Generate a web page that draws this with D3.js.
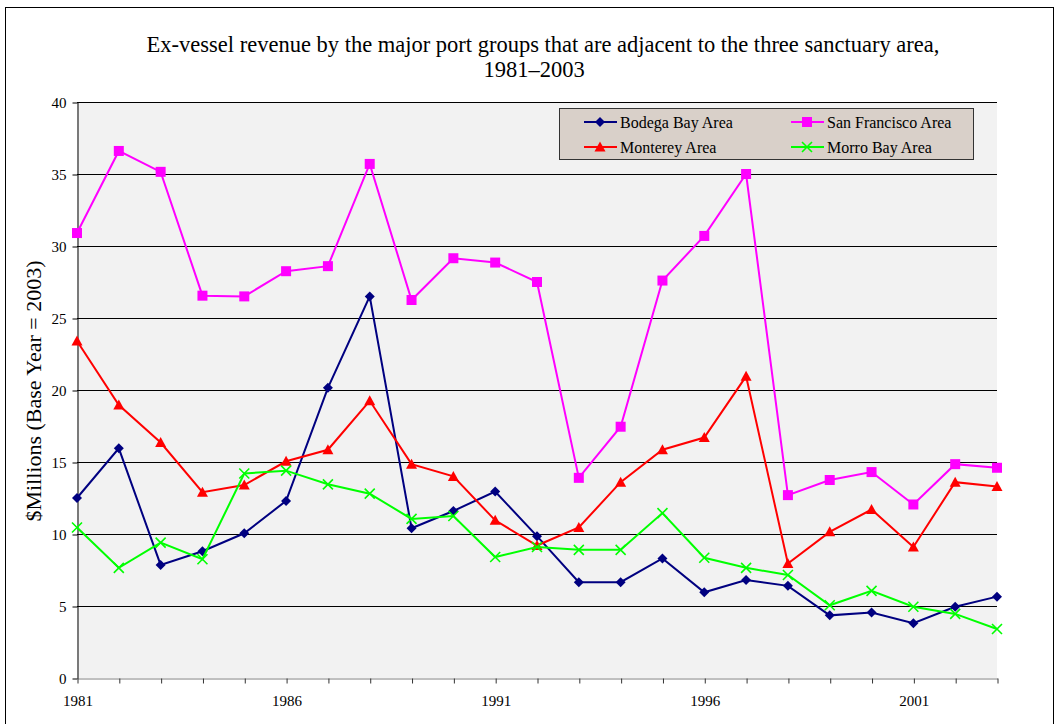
<!DOCTYPE html>
<html lang="en">
<head>
  <meta charset="utf-8" />
  <script src="https://d3js.org/d3.v7.min.js"></script>
  <style>
    body { margin: 0; background: #fff; }
    text { font-family: "Liberation Serif", "Times New Roman", serif; fill: #000; }
  </style>
</head>
<body>
  <div id="chart"></div>
  <script>
    const years = d3.range(1981, 2004);
    const yearLabels = [1981, 1986, 1991, 1996, 2001];
    const yTicks = [0, 5, 10, 15, 20, 25, 30, 35, 40];

    const seriesNames = ["Bodega Bay Area", "San Francisco Area", "Monterey Area", "Morro Bay Area"];
    const bodega = [12.5, 15.95, 7.85, 8.8, 10.05, 12.3, 20.15, 26.5, 10.4, 11.6, 12.95, 9.85,
      6.65, 6.65, 8.3, 5.95, 6.8, 6.4, 4.35, 4.55, 3.8, 4.95, 5.65];
    const sanFrancisco = [30.9, 36.6, 35.15, 26.55, 26.5, 28.25, 28.6, 35.7, 26.25, 29.15, 28.85, 27.5,
      13.9, 17.45, 27.6, 30.7, 35.0, 12.7, 13.75, 14.3, 12.05, 14.85, 14.6];
    const monterey = [23.4, 18.95, 16.35, 12.9, 13.4, 15.05, 15.85, 19.25, 14.85, 14.0, 10.95, 9.2,
      10.45, 13.6, 15.85, 16.7, 20.95, 7.95, 10.15, 11.7, 9.1, 13.6, 13.3];
    const morroBay = [10.45, 7.65, 9.4, 8.25, 14.2, 14.4, 13.45, 12.8, 11.05, 11.25, 8.4, 9.1,
      8.9, 8.9, 11.45, 8.35, 7.65, 7.15, 5.05, 6.05, 4.95, 4.45, 3.4];

    const colors = ["#000080", "#ff00ff", "#ff0000", "#00ff00"];
    const markers = ["diamond", "square", "triangle", "cross"];
    const allSeries = [bodega, sanFrancisco, monterey, morroBay];

    const W = 1057, H = 724;
    const plot = { left: 77, right: 997, top: 102, bottom: 678 };

    const svg = d3.select("#chart").append("svg")
      .attr("width", W)
      .attr("height", H);

    // outer chart frame
    svg.append("rect")
      .attr("x", 5.5).attr("y", 7.5)
      .attr("width", 1048).attr("height", 730)
      .attr("fill", "#fff")
      .attr("stroke", "#000")
      .attr("stroke-width", 1);

    const x = d3.scaleLinear().domain([1981, 2003]).range([plot.left, plot.right]);
    const y = d3.scaleLinear().domain([0, 40]).range([plot.bottom, plot.top]);

    // plot background
    svg.append("rect")
      .attr("x", plot.left).attr("y", plot.top)
      .attr("width", plot.right - plot.left)
      .attr("height", plot.bottom - plot.top)
      .attr("fill", "#f2f2f2");

    // gridlines
    svg.append("g")
      .selectAll("line")
      .data(yTicks.filter(d => d > 0))
      .enter().append("line")
      .attr("x1", plot.left).attr("x2", plot.right)
      .attr("y1", d => Math.round(y(d)) + 0.5)
      .attr("y2", d => Math.round(y(d)) + 0.5)
      .attr("stroke", "#000")
      .attr("stroke-width", 1);

    // y axis
    const yAxis = svg.append("g")
      .attr("transform", `translate(${plot.left + 0.5},0.5)`)
      .call(d3.axisLeft(y).tickValues(yTicks).tickSize(5).tickPadding(6).tickSizeOuter(0));
    yAxis.select(".domain").attr("stroke", "#000");
    yAxis.selectAll("text").style("font-size", "15px").style("font-family", "Liberation Serif");

    // x axis
    const xAxis = svg.append("g")
      .attr("transform", `translate(0.5,${plot.bottom + 0.5})`)
      .call(d3.axisBottom(x).tickValues(years).tickSize(5).tickPadding(12).tickSizeOuter(0)
        .tickFormat(d => yearLabels.includes(d) ? d : ""));
    xAxis.select(".domain").attr("stroke", "#808080");
    xAxis.selectAll(".tick line").attr("stroke", "#333");
    xAxis.selectAll("text").style("font-size", "15px").style("font-family", "Liberation Serif");

    // y axis title
    svg.append("text")
      .attr("transform", `translate(41,${(plot.top + plot.bottom) / 2 + 1}) rotate(-90)`)
      .attr("text-anchor", "middle")
      .style("font-size", "22px")
      .text("$Millions (Base Year = 2003)");

    // chart title
    const title = svg.append("text")
      .attr("text-anchor", "middle")
      .style("font-size", "22.5px");
    title.append("tspan").attr("x", 543).attr("y", 52)
      .text("Ex-vessel revenue by the major port groups that are adjacent to the three sanctuary area,");
    title.append("tspan").attr("x", 534).attr("y", 77).text("1981–2003");

    function drawMarker(g, type, color) {
      if (type === "diamond") {
        g.append("path").attr("d", "M0,-5L5,0L0,5L-5,0Z").attr("fill", color);
      } else if (type === "square") {
        g.append("rect").attr("x", -5).attr("y", -5).attr("width", 10).attr("height", 10).attr("fill", color);
      } else if (type === "triangle") {
        g.append("path").attr("d", "M0,-5.5L5.5,4.5L-5.5,4.5Z").attr("fill", color);
      } else {
        g.append("path").attr("d", "M-5,-5L5,5M-5,5L5,-5")
          .attr("stroke", color).attr("stroke-width", 1.6).attr("fill", "none");
      }
    }

    const line = d3.line()
      .x((d, i) => x(years[i]))
      .y(d => y(d));

    allSeries.forEach((vals, s) => {
      const g = svg.append("g");
      g.append("path")
        .attr("d", line(vals))
        .attr("fill", "none")
        .attr("stroke", colors[s])
        .attr("stroke-width", 2);
      vals.forEach((v, i) => {
        const m = g.append("g").attr("transform", `translate(${x(years[i])},${y(v)})`);
        drawMarker(m, markers[s], colors[s]);
      });
    });

    // legend
    const legend = svg.append("g");
    legend.append("rect")
      .attr("x", 559.5).attr("y", 108.5)
      .attr("width", 414).attr("height", 51)
      .attr("fill", "#d9d0c9")
      .attr("stroke", "#333");

    const legendPos = [[584, 122], [791, 122], [584, 147], [791, 147]];
    seriesNames.forEach((name, s) => {
      const [lx, ly] = legendPos[s];
      const g = legend.append("g").attr("transform", `translate(${lx},${ly})`);
      g.append("line").attr("x1", 0).attr("x2", 33).attr("y1", 0).attr("y2", 0)
        .attr("stroke", colors[s]).attr("stroke-width", 2);
      const m = g.append("g").attr("transform", "translate(16,0)");
      drawMarker(m, markers[s], colors[s]);
      g.append("text").attr("x", 36).attr("y", 5.5)
        .style("font-size", "16px")
        .text(name);
    });
  </script>
</body>
</html>
